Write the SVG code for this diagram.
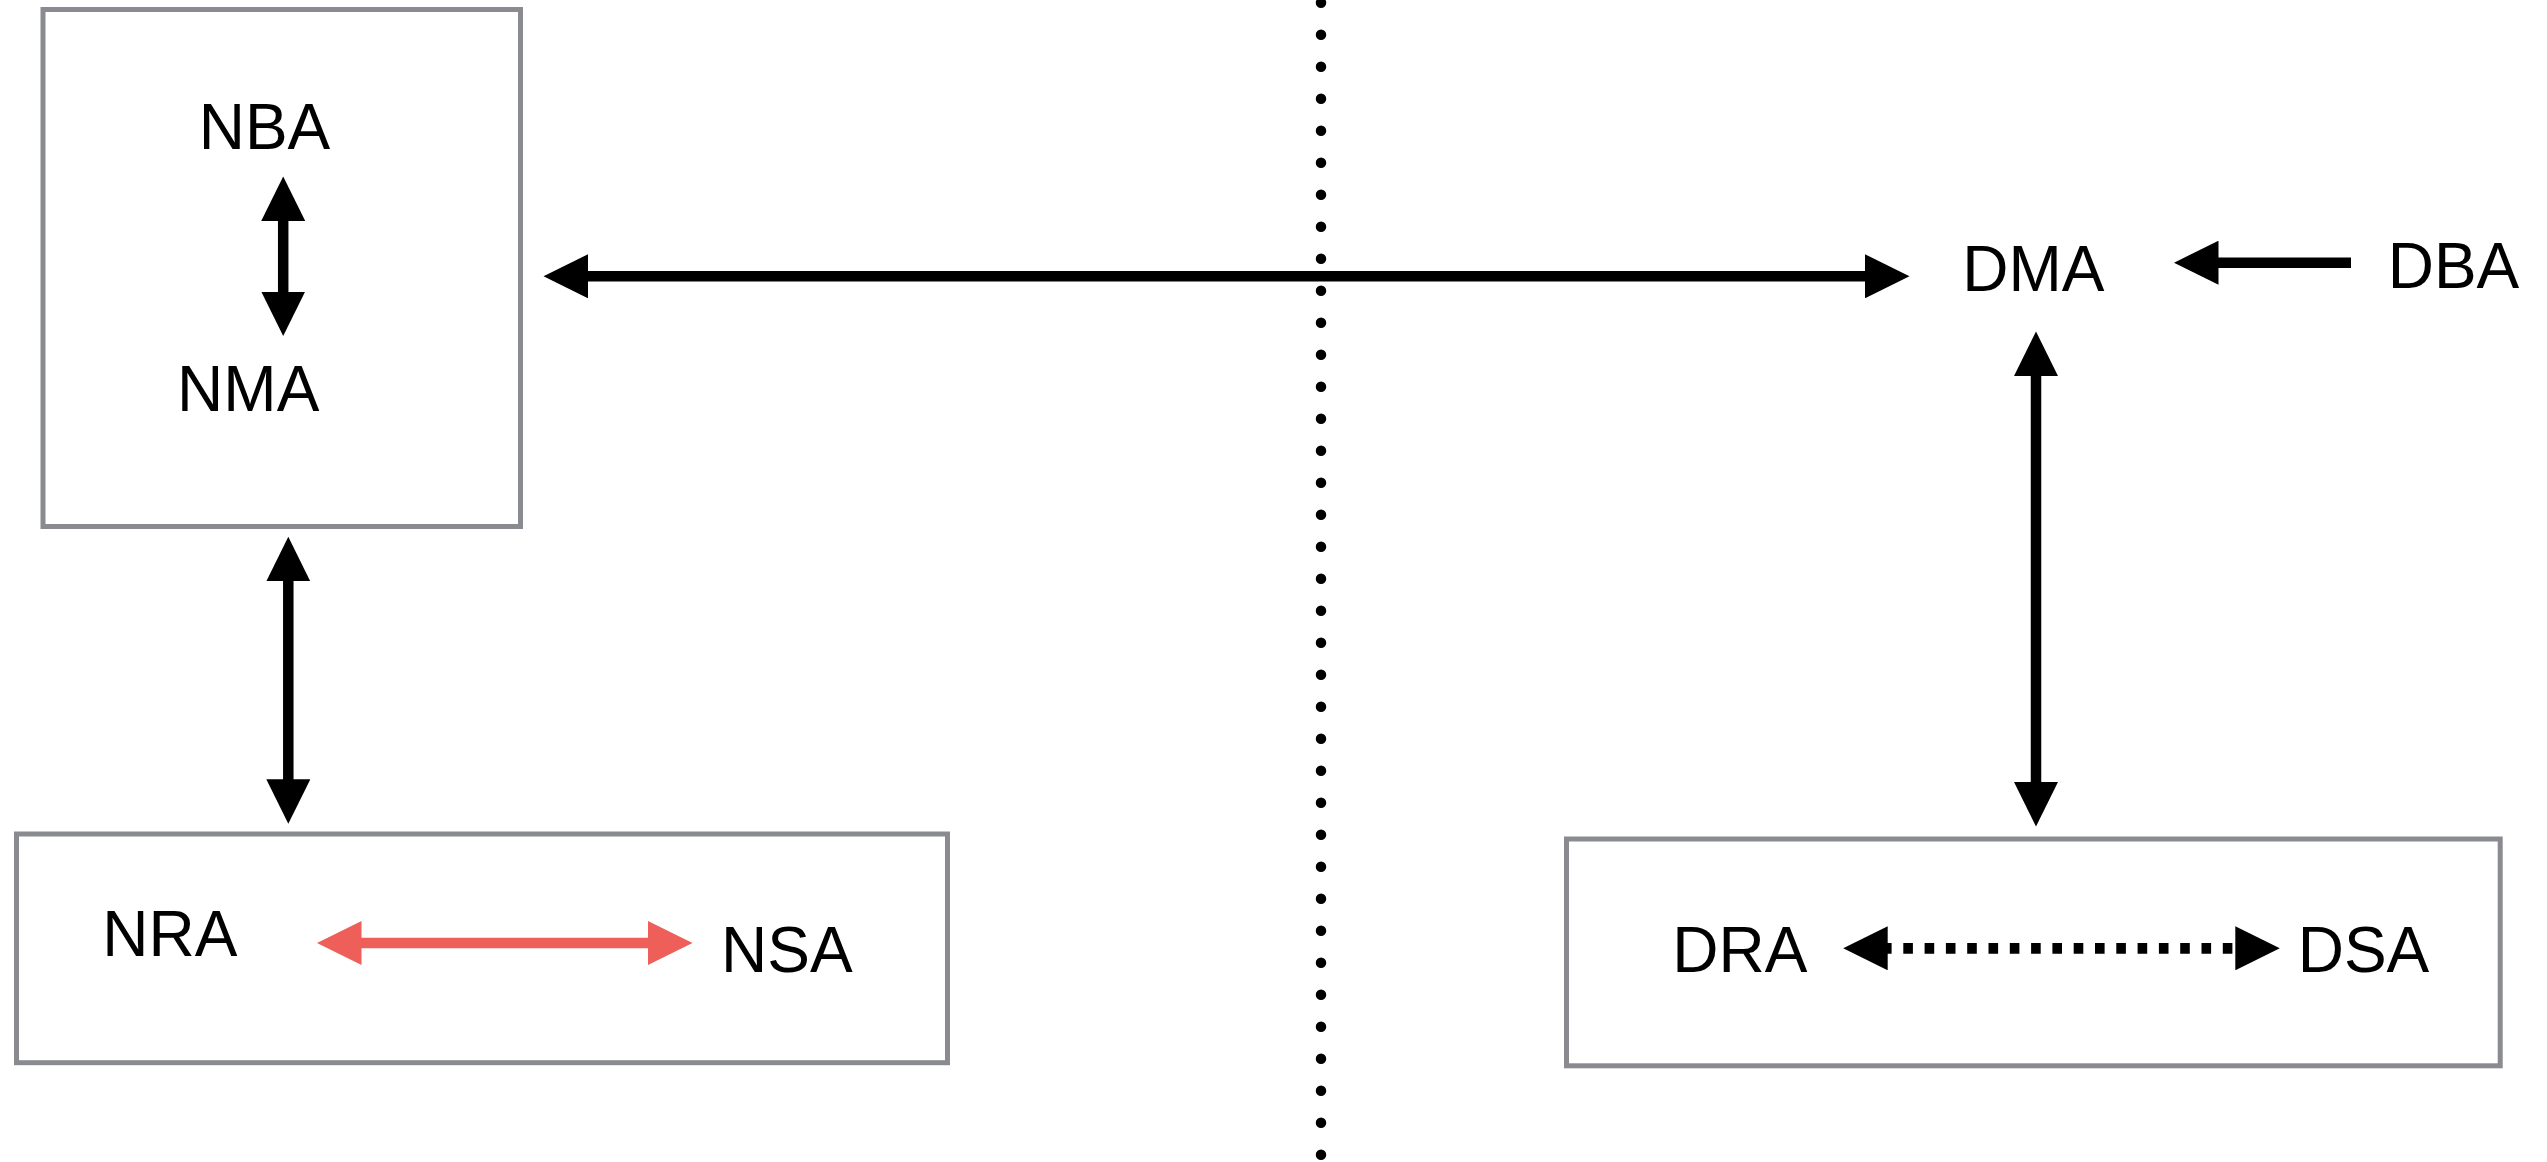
<svg xmlns="http://www.w3.org/2000/svg" width="2547" height="1162" viewBox="0 0 2547 1162">
  <style>
    .box { fill: #ffffff; stroke: #898b90; stroke-width: 5; }
    .lbl { font-family: "Liberation Sans", Arial, sans-serif; font-size: 64px; fill: #000000; }
    .wire { fill: none; stroke: #000000; stroke-width: 10.5; }
    .wire.red { stroke: #ed5f58; }
    .wire.dash { stroke-width: 10.7; stroke-dasharray: 9.6 11.7; stroke-dashoffset: 4.7; }
    .divider { fill: none; stroke: #000000; stroke-width: 10.5; stroke-linecap: round; stroke-dasharray: 0 32; }
  </style>
  <defs>
    <marker id="head" viewBox="0 -22 46 44" refX="1" refY="0" markerWidth="46" markerHeight="44" markerUnits="userSpaceOnUse" orient="auto-start-reverse">
      <path d="M0,-22 L44.5,0 L0,22 Z" fill="#000000"/>
    </marker>
    <marker id="head-red" viewBox="0 -22 46 44" refX="1" refY="0" markerWidth="46" markerHeight="44" markerUnits="userSpaceOnUse" orient="auto-start-reverse">
      <path d="M0,-22 L44.5,0 L0,22 Z" fill="#ed5f58"/>
    </marker>
  </defs>

  <rect width="2547" height="1162" fill="#ffffff"/>

  <!-- dotted divider between the two sides -->
  <line class="divider" x1="1321" y1="2.7" x2="1321" y2="1156"/>

  <!-- containers and agents -->
  <g id="n-box">
    <rect class="box" x="43" y="9.5" width="477.5" height="517"/>
  </g>
  <g id="nba">
    <text class="lbl" x="198.7" y="149.3">NBA</text>
  </g>
  <g id="nma">
    <text class="lbl" x="177.1" y="410.7">NMA</text>
  </g>
  <g id="nr-box">
    <rect class="box" x="16.5" y="834" width="931" height="228.7"/>
  </g>
  <g id="nra">
    <text class="lbl" x="102.2" y="955.7">NRA</text>
  </g>
  <g id="nsa">
    <text class="lbl" x="721.1" y="971.7">NSA</text>
  </g>
  <g id="dma">
    <text class="lbl" x="1962.3" y="291">DMA</text>
  </g>
  <g id="dba">
    <text class="lbl" x="2387.7" y="288.3">DBA</text>
  </g>
  <g id="dr-box">
    <rect class="box" x="1566.5" y="839" width="933.7" height="226.8"/>
  </g>
  <g id="dra">
    <text class="lbl" x="1672.3" y="971.7">DRA</text>
  </g>
  <g id="dsa">
    <text class="lbl" x="2297.7" y="971.7">DSA</text>
  </g>

  <!-- connectors -->
  <g id="connectors">
    <line class="wire" x1="283.2" y1="220" x2="283.2" y2="292.5" marker-start="url(#head)" marker-end="url(#head)"/>
    <line class="wire" x1="288.3" y1="580.3" x2="288.3" y2="780.3" marker-start="url(#head)" marker-end="url(#head)"/>
    <line class="wire" x1="587" y1="276.3" x2="1866" y2="276.3" marker-start="url(#head)" marker-end="url(#head)"/>
    <line class="wire" x1="2351" y1="262.7" x2="2217.5" y2="262.7" marker-end="url(#head)"/>
    <line class="wire" x1="2036" y1="375" x2="2036" y2="783" marker-start="url(#head)" marker-end="url(#head)"/>
    <line class="wire red" x1="360.5" y1="943" x2="649" y2="943" marker-start="url(#head-red)" marker-end="url(#head-red)"/>
    <line class="wire dash" x1="1886.7" y1="948.3" x2="2236.3" y2="948.3" marker-start="url(#head)" marker-end="url(#head)"/>
  </g>
</svg>
